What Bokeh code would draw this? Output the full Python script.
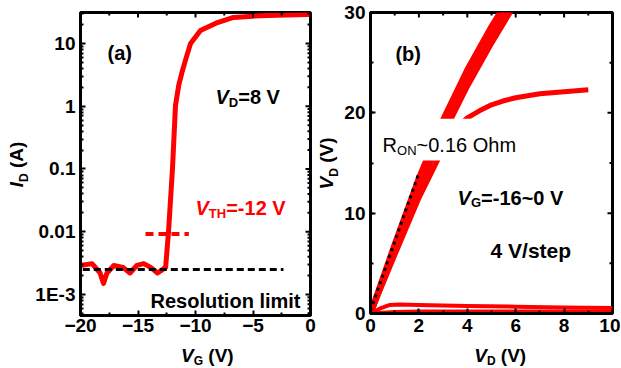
import math
from bokeh.plotting import figure
from bokeh.layouts import row, column
from bokeh.models import (Range1d, FixedTicker, SingleIntervalTicker, Label, BoxAnnotation)
from bokeh.embed import file_html
from bokeh.resources import INLINE

FONT = "Liberation Sans"
RED = "#ff0000"
NB = "\u00a0"

# ---------------- Panel (a): transfer curve ----------------
vg_a = [-20.0, -19.0, -18.3, -18.0, -17.7, -17.1, -16.3, -15.7, -15.1, -14.5,
        -13.9, -13.3, -13.0, -12.6, -12.35, -12.0, -11.74, -11.45, -11.13,
        -10.8, -10.43, -9.57, -8.09, -6.7, -5.0, -3.74, -2.0, -0.26, 0.0]
id_a = [2.9e-3, 3.1e-3, 2.2e-3, 1.5e-3, 2.2e-3, 2.9e-3, 2.7e-3, 2.2e-3, 2.9e-3, 3.1e-3,
        2.7e-3, 2.2e-3, 2.4e-3, 2.7e-3, 0.0097, 0.102, 1.03, 2.2, 3.72,
        6.0, 10.0, 16.1, 21.6, 26.0, 27.3, 27.9, 28.5, 29.0, 29.2]
vth_vg = [-14.35, -10.58]
vth_id = [0.0092, 0.0092]
res_vg = [-19.8, -2.35]
res_id = [2.5e-3, 2.5e-3]
a_xticks = [-20, -15, -10, -5, 0]
a_yticks = [1e-3, 1e-2, 1e-1, 1.0, 10.0]
a_ytick_labels = ["1E-3", "0.01", "0.1", "1", "10"]

# ---------------- Panel (b): output curves ----------------
vd_band = [0, 1, 2, 3, 4, 5, 6]
id_vg_0 = [0, 6.9, 13.5, 19.3, 24.3, 28.6, 32.5]
id_vg_m4 = [0, 6.6, 13.0, 18.6, 23.5, 27.8, 31.8]
id_vg_m8 = [0, 6.3, 12.4, 17.9, 22.7, 27.0, 31.0]
vd_sat = [0, 1, 2, 3, 3.5, 4, 4.5, 5, 5.5, 6, 7, 8, 9]
id_vg_m12 = [0, 5.8, 11.5, 16.4, 18.3, 19.5, 20.2, 20.8, 21.2, 21.5, 21.9, 22.1, 22.3]
vd_low = [0, 0.4, 0.8, 1.2, 2, 4, 6, 8, 10]
id_low1 = [0, 0.5, 0.85, 0.9, 0.85, 0.75, 0.68, 0.6, 0.55]
vd_off = [0, 1, 2, 4, 6, 8, 10]
id_low0 = [0, 0.15, 0.2, 0.2, 0.2, 0.2, 0.2]
ron_vd = [0.0, 2.0]
ron_id = [0.3, 14.0]
b_xticks = [0, 2, 4, 6, 8, 10]
b_yticks = [0, 10, 20, 30]

BOLD_W = {' ': 278, NB: 278, '(': 333, ')': 333, '-': 333, '.': 278, '/': 278, '=': 584,
          '~': 584, 'A': 722, 'D': 722, 'E': 667, 'G': 778, 'H': 722, 'I': 278,
          'N': 722, 'O': 778, 'R': 722, 'T': 611, 'V': 667, 'a': 556, 'b': 611,
          'e': 556, 'h': 611, 'i': 278, 'l': 278, 'm': 889, 'n': 611, 'o': 611,
          'p': 611, 's': 556, 't': 333, 'u': 611}
REG_W = {' ': 278, NB: 278, '.': 278, '~': 584, 'O': 778, 'N': 722, 'R': 722,
         'h': 556, 'm': 833}


def tw(text, size, bold):
    table = BOLD_W if bold else REG_W
    return sum(table.get(c, 556) for c in text) * size / 1000.0


def rich(fig, x, y, parts, color="black"):
    adv = 0.0
    for text, size, style, sub in parts:
        fig.add_layout(Label(x=x, y=y, x_offset=adv, y_offset=-5 if sub else 0,
                             text=text, text_font=FONT, text_font_size=f"{size}px",
                             text_font_style=style, text_color=color,
                             text_align="left", text_baseline="alphabetic"))
        adv += tw(text, size, "bold" in style)


def rich_vertical(fig, cx, cy, parts, color="black"):
    # text reading bottom-to-top, each run centred on its own spot
    widths = [tw(t, s, "bold" in st) for t, s, st, _ in parts]
    total = sum(widths)
    adv = 0.0
    for (text, size, style, sub), w in zip(parts, widths):
        fig.add_layout(Label(x=cx, y=cy, x_offset=7 if sub else 0,
                             y_offset=-total / 2 + adv + w / 2, angle=math.pi / 2,
                             text=text, text_font=FONT, text_font_size=f"{size}px",
                             text_font_style=style, text_color=color,
                             text_align="center", text_baseline="middle"))
        adv += w


def style_axis(ax):
    ax.axis_line_width = 3
    ax.axis_line_color = "black"
    ax.major_tick_in = 5
    ax.major_tick_out = 0
    ax.minor_tick_in = 3
    ax.minor_tick_out = 0
    ax.major_tick_line_width = 2
    ax.minor_tick_line_width = 2
    ax.major_label_text_font = FONT
    ax.major_label_text_font_style = "bold"
    ax.major_label_text_color = "black"
    ax.major_label_text_font_size = "19px"


def base_fig(width, height, x_range, y_range, ytype, mbl, mbr, mbb):
    p = figure(width=width, height=height, x_range=x_range, y_range=y_range,
               y_axis_type=ytype, output_backend="svg", toolbar_location=None,
               min_border_left=mbl, min_border_right=mbr, min_border_top=12,
               min_border_bottom=mbb)
    p.grid.visible = False
    p.outline_line_width = 3
    p.outline_line_color = "black"
    p.background_fill_color = "white"
    p.border_fill_color = "white"
    return p


def text_fig(width, height):
    # a frame-only strip that carries an axis title (pixel coordinates, y from bottom)
    p = figure(width=width, height=height, x_range=Range1d(0, width),
               y_range=Range1d(0, height), output_backend="svg", toolbar_location=None,
               x_axis_location=None, y_axis_location=None, min_border=0)
    p.grid.visible = False
    p.outline_line_color = None
    p.background_fill_color = "white"
    p.border_fill_color = "white"
    return p


def edge_ticks(p, xs, y_edge, size, vertical):
    # inward tick marks on the top / right frame edges (half clipped by the frame)
    ys = [y_edge] * len(xs)
    if vertical:
        p.scatter(xs, ys, marker="dash", size=size, angle=math.pi / 2,
                  line_color="black", line_width=2)
    else:
        p.scatter(ys, xs, marker="dash", size=size, line_color="black", line_width=2)


# ---- figure (a)
p1 = base_fig(286, 340, Range1d(-20, 0), Range1d(4.62e-4, 31.2), "log", 50, 6, 25)
xt_a = FixedTicker(ticks=a_xticks,
                   minor_ticks=[(a + b) / 2 for a, b in zip(a_xticks[:-1], a_xticks[1:])])
minor_a = [k * 10.0 ** d for d in range(-4, 2) for k in range(2, 10)]
yt_a = FixedTicker(ticks=a_yticks, minor_ticks=minor_a)
p1.xaxis.ticker = xt_a
p1.yaxis.ticker = yt_a
p1.yaxis.major_label_overrides = dict(zip(a_yticks, a_ytick_labels))
for ax in p1.xaxis + p1.yaxis:
    style_axis(ax)
p1.xaxis.major_label_standoff = 3
p1.yaxis.major_label_standoff = 5

p1.line(vg_a, id_a, line_color=RED, line_width=5, line_join="round")
p1.line(vth_vg, vth_id, line_color=RED, line_width=4, line_dash="8 5")
p1.line(res_vg, res_id, line_color="black", line_width=3, line_dash="7 4")

edge_ticks(p1, xt_a.ticks, 31.2, 10, True)
edge_ticks(p1, xt_a.minor_ticks, 31.2, 6, True)
edge_ticks(p1, a_yticks, 0.0, 10, False)
edge_ticks(p1, [v for v in minor_a if 4.62e-4 < v < 31.2], 0.0, 6, False)

rich(p1, -17.65, 6.93, [("(a)", 20, "bold", False)])
rich(p1, -8.26, 1.39, [("V", 20, "bold italic", False), ("D", 13, "bold", True),
                       ("=8 V", 20, "bold", False)])
rich(p1, -10.0, 0.0235, [("V", 20, "bold italic", False), ("TH", 13, "bold", True),
                         ("=-12 V", 20, "bold", False)], color=RED)
rich(p1, -13.91, 8.0e-4, [("Resolution limit", 20, "bold", False)])

ylab_a = text_fig(30, 366)
rich_vertical(ylab_a, 16, 202, [("I", 19, "bold italic", False), ("D", 12, "bold", True),
                                (NB + "(A)", 19, "bold", False)])
xlab_a = text_fig(286, 26)
rich(xlab_a, 125, 11, [("V", 19, "bold italic", False), ("G", 12, "bold", True),
                       (NB + "(V)", 19, "bold", False)])

# ---- figure (b)
p2 = base_fig(280, 340, Range1d(0, 10), Range1d(0, 30), "linear", 30, 8, 27)
xt_b = SingleIntervalTicker(interval=2, num_minor_ticks=2)
yt_b = SingleIntervalTicker(interval=10, num_minor_ticks=2)
p2.xaxis.ticker = xt_b
p2.yaxis.ticker = yt_b
for ax in p2.xaxis + p2.yaxis:
    style_axis(ax)
p2.xaxis.major_label_standoff = 5
p2.yaxis.major_label_standoff = 5

for ys in (id_vg_0, id_vg_m4, id_vg_m8):
    p2.line(vd_band, ys, line_color=RED, line_width=6)
p2.line(vd_sat, id_vg_m12, line_color=RED, line_width=5, line_join="round")
p2.line(vd_low, id_low1, line_color=RED, line_width=4, line_join="round")
p2.line(vd_off, id_low0, line_color=RED, line_width=4)
p2.line(ron_vd, ron_id, line_color="black", line_width=3, line_dash="3 4")

edge_ticks(p2, b_xticks, 30, 10, True)
edge_ticks(p2, [(a + b) / 2 for a, b in zip(b_xticks[:-1], b_xticks[1:])], 30, 6, True)
edge_ticks(p2, b_yticks, 10, 10, False)
edge_ticks(p2, [(a + b) / 2 for a, b in zip(b_yticks[:-1], b_yticks[1:])], 10, 6, False)

p2.add_layout(BoxAnnotation(left=0.2, right=6.8, bottom=15.25, top=19.4,
                            fill_color="white", fill_alpha=1.0, line_alpha=0.0))
rich(p2, 1.03, 25.9, [("(b)", 20, "bold", False)])
rich(p2, 0.5, 16.75, [("R", 20, "normal", False), ("ON", 13, "normal", True),
                      ("~0.16 Ohm", 20, "normal", False)])
rich(p2, 3.6, 11.56, [("V", 20, "bold italic", False), ("G", 13, "bold", True),
                      ("=-16~0 V", 20, "bold", False)])
rich(p2, 4.96, 6.28, [("4 V/step", 21, "bold", False)])

ylab_b = text_fig(24, 366)
rich_vertical(ylab_b, 10, 203, [("V", 19, "bold italic", False), ("D", 12, "bold", True),
                                (NB + "(V)", 19, "bold", False)])
xlab_b = text_fig(280, 26)
rich(xlab_b, 120, 11, [("V", 19, "bold italic", False), ("D", 12, "bold", True),
                       (NB + "(V)", 19, "bold", False)])

layout = row(ylab_a, column(p1, xlab_a), ylab_b, column(p2, xlab_b))
open("out.html", "w").write(file_html(layout, INLINE))
